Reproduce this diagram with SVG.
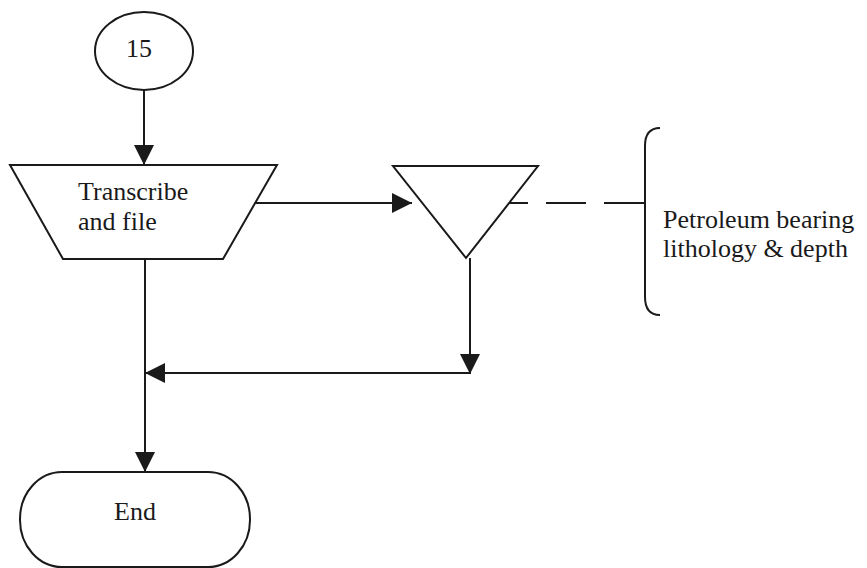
<svg xmlns="http://www.w3.org/2000/svg" width="867" height="568" viewBox="0 0 867 568">
<style>
.s{fill:#fff;stroke:#1a1a1a;stroke-width:2}
.c{fill:none;stroke:#1a1a1a;stroke-width:2}
.t{font-family:"Liberation Serif","Times New Roman",serif;font-size:26px;fill:#1a1a1a}
</style>
<defs>
<marker id="ah" viewBox="0 0 20 20" refX="20" refY="10" markerWidth="20" markerHeight="20" markerUnits="userSpaceOnUse" orient="auto">
<path d="M0,0 L20,10 L0,20 Z" fill="#1a1a1a"/>
</marker>
</defs>
<rect width="867" height="568" fill="#fff"/>
<g id="connectors">
<line class="c" x1="144" y1="90" x2="144" y2="165" marker-end="url(#ah)"/>
<line class="c" x1="255" y1="203" x2="412" y2="203" marker-end="url(#ah)"/>
<line class="c" x1="509" y1="203" x2="645" y2="203" stroke-dasharray="40 18" stroke-dashoffset="21"/>
<polyline class="c" points="470,258 470,374" marker-end="url(#ah)"/>
<line class="c" x1="470" y1="373" x2="145" y2="373" marker-end="url(#ah)"/>
<line class="c" x1="145" y1="259" x2="145" y2="472" marker-end="url(#ah)"/>
</g>
<g id="n15">
<ellipse class="s" cx="144" cy="51" rx="49" ry="39"/>
<text class="t" x="139" y="57" text-anchor="middle">15</text>
</g>
<g id="transcribe">
<polygon class="s" points="10,165 277,165 223,259 63,259"/>
<text class="t" x="78" y="200">Transcribe</text>
<text class="t" x="78" y="230">and file</text>
</g>
<g id="merge">
<polygon class="s" points="393,166 538,166 466,258"/>
</g>
<g id="annotation">
<path class="c" d="M660,128 Q645,128 645,146 L645,297 Q645,315 660,315"/>
<text class="t" x="663" y="228">Petroleum bearing</text>
<text class="t" x="663" y="257">lithology &amp; depth</text>
</g>
<g id="end">
<rect class="s" x="20" y="472" width="230" height="95" rx="42" ry="47"/>
<text class="t" x="135" y="520" text-anchor="middle">End</text>
</g>
</svg>
